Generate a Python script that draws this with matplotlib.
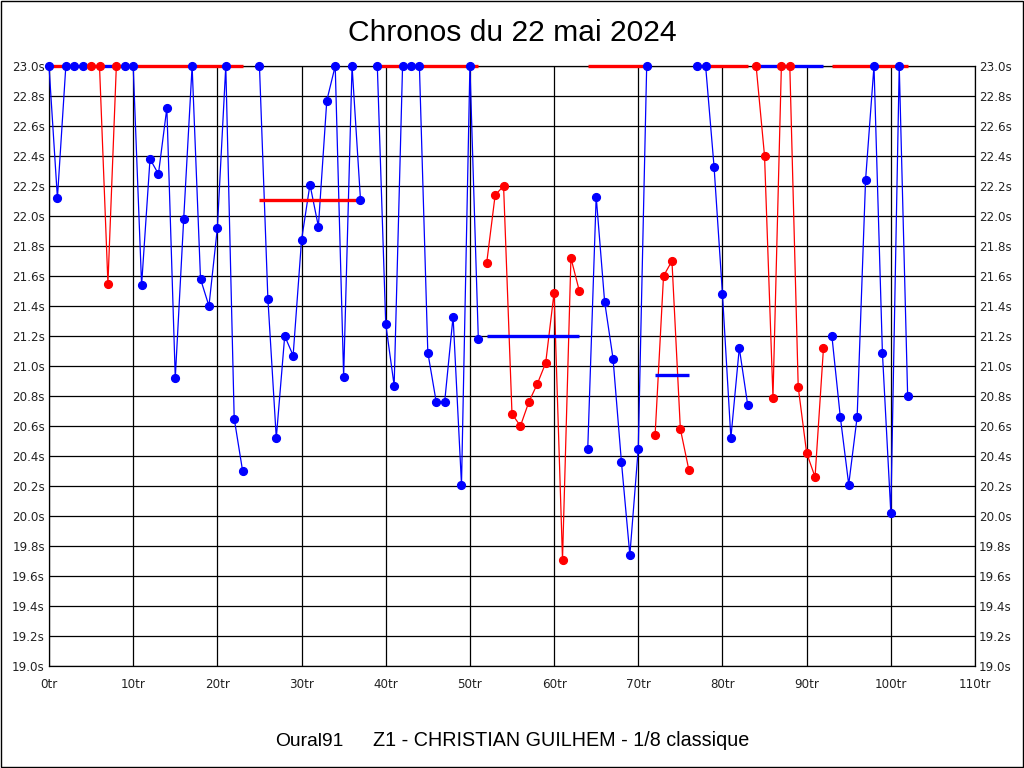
import numpy as np
import matplotlib
matplotlib.use('Agg')
import matplotlib.pyplot as plt
from matplotlib.patches import Rectangle

# ===============================
# Données : chronos par relais
# ===============================

# premier et dernier tour de chaque relais (les tours 24 et 38 n'apparaissent pas)
relais_debut = [0, 5, 9, 25, 39, 52, 64, 72, 77, 84, 93]
relais_fin = [4, 8, 23, 37, 51, 63, 71, 76, 83, 92, 102]
# pilote de chaque relais (0 = bleu, 1 = rouge)
relais_pilote = [0, 1, 0, 0, 0, 1, 0, 1, 0, 1, 0]

# temps au tour en secondes (23.0 = hors échelle, ramené en haut du graphe)
temps = [
    23.0, 22.12, 23.0, 23.0, 23.0,                       # tours 0-4
    23.0, 23.0, 21.55, 23.0,                             # tours 5-8
    23.0, 23.0, 21.54, 22.38, 22.28, 22.72, 20.92, 21.98,
    23.0, 21.58, 21.40, 21.92, 23.0, 20.65, 20.30,       # tours 9-23
    23.0, 21.45, 20.52, 21.20, 21.07, 21.84, 22.21, 21.93,
    22.77, 23.0, 20.93, 23.0, 22.11,                     # tours 25-37
    23.0, 21.28, 20.87, 23.0, 23.0, 23.0, 21.09, 20.76,
    20.76, 21.33, 20.21, 23.0, 21.18,                    # tours 39-51
    21.69, 22.14, 22.20, 20.68, 20.60, 20.76, 20.88, 21.02,
    21.49, 19.71, 21.72, 21.50,                          # tours 52-63
    20.45, 22.13, 21.43, 21.05, 20.36, 19.74, 20.45, 23.0,  # tours 64-71
    20.54, 21.60, 21.70, 20.58, 20.31,                   # tours 72-76
    23.0, 23.0, 22.33, 21.48, 20.52, 21.12, 20.74,       # tours 77-83
    23.0, 22.40, 20.79, 23.0, 23.0, 20.86, 20.42, 20.26, 21.12,  # tours 84-92
    21.20, 20.66, 20.21, 20.66, 22.24, 23.0, 21.09, 20.02, 23.0, 20.80,  # tours 93-102
]

# moyennes des relais (trait épais, couleur de l'autre pilote)
moy_debut = [0, 6, 8, 25, 39, 52, 64, 72, 77, 84, 93]
moy_fin = [6, 8, 23, 37, 51, 63, 71, 76, 83, 92, 102]
moy_valeur = [23.0, 23.0, 23.0, 22.11, 23.0, 21.20, 23.0, 20.94, 23.0, 23.0, 23.0]
moy_pilote = [1, 0, 1, 1, 1, 0, 1, 0, 1, 0, 1]

couleurs = ['#0000ff', '#ff0000']

# ===============================
# Figure
# ===============================
fig = plt.figure(figsize=(10.24, 7.68), dpi=100)
ax = fig.add_axes([49 / 1024, 1 - 666 / 768, (975 - 49) / 1024, 600 / 768])

# bordure noire autour de l'image
fig.add_artist(Rectangle((0.0005, 0.0007), 0.999, 0.9986, transform=fig.transFigure,
                         fill=False, edgecolor='black', linewidth=1))

# on découpe la liste des temps par relais
pos = 0
for d, f, p in zip(relais_debut, relais_fin, relais_pilote):
    n = f - d + 1
    x = np.arange(d, f + 1)
    y = temps[pos:pos + n]
    pos += n
    ax.plot(x, y, color=couleurs[p], linewidth=0.9, zorder=3, clip_on=False)
    ax.plot(x, y, linestyle='none', marker='o', markersize=5.6, color=couleurs[p],
            zorder=5, clip_on=False)

for d, f, v, p in zip(moy_debut, moy_fin, moy_valeur, moy_pilote):
    ax.plot([d, f], [v, v], color=couleurs[p], linewidth=2.4, zorder=4,
            clip_on=False, solid_capstyle='butt')

ax.set_xlim(0, 110)
ax.set_ylim(19.0, 23.0)

ax.set_xticks(np.arange(0, 111, 10))
ax.set_xticklabels([f'{v}tr' for v in range(0, 111, 10)])
yt = np.arange(19.0, 23.01, 0.2)
ax.set_yticks(yt)
ax.set_yticklabels([f'{v:.1f}s' for v in yt])

ax.tick_params(axis='both', length=0, labelsize=8.6, colors='#222222')
ax.tick_params(axis='y', pad=3, labelright=True)
ax.tick_params(axis='x', pad=9)

# grille noire continue
ax.grid(True, color='black', linewidth=0.9)
for s in ax.spines.values():
    s.set_linewidth(0.9)
ax.set_axisbelow(True)

fig.text(0.5, 1 - 33 / 768, 'Chronos du 22 mai 2024', ha='center', va='center',
         fontsize=21.6, family='Liberation Sans')
fig.text(275 / 1024, 1 - 746 / 768, 'Oural91', ha='left', va='baseline',
         fontsize=13.9, family='Liberation Sans')
fig.text(373 / 1024, 1 - 746 / 768, 'Z1 - CHRISTIAN GUILHEM - 1/8 classique',
         ha='left', va='baseline', fontsize=14.2, family='Liberation Sans')

fig.savefig('out.png', dpi=100, facecolor='white')
